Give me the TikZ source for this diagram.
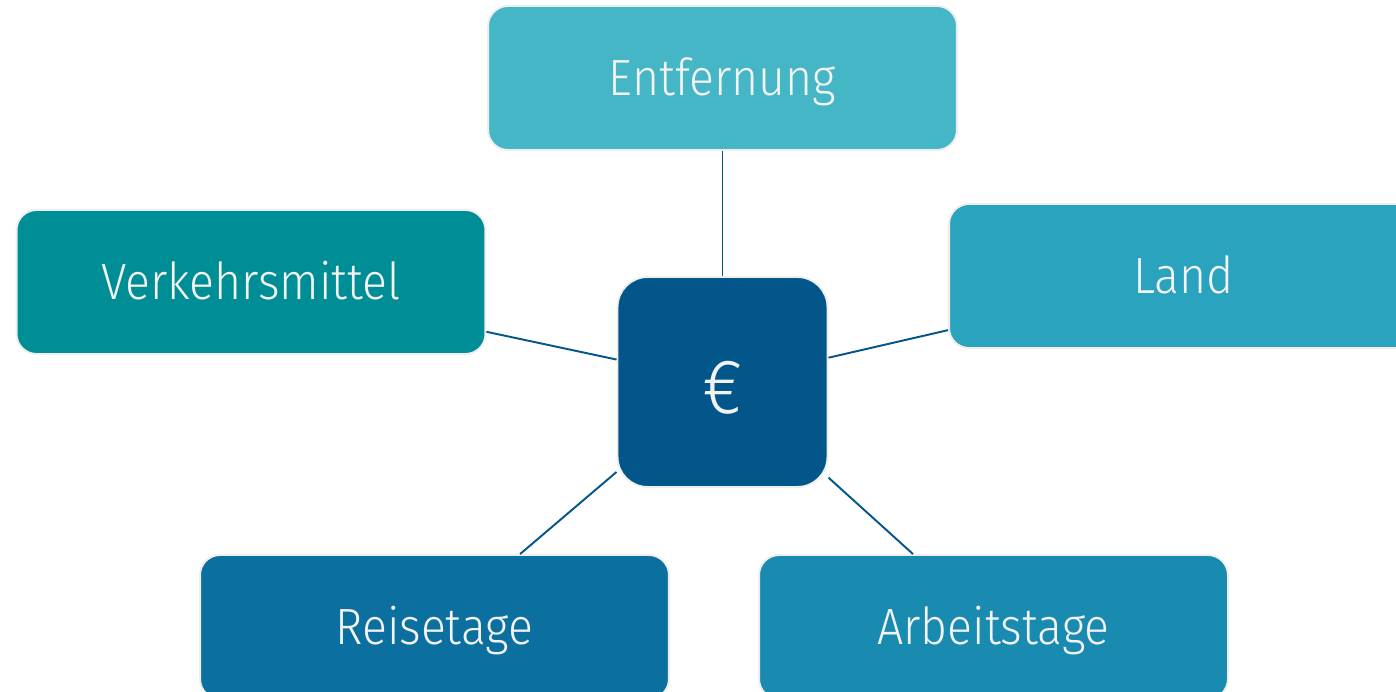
\documentclass[tikz,border=0pt]{standalone}
\usepackage{fontspec}
\setmainfont{Fira Sans}[UprightFont={* Light}, FakeStretch=0.91]
\usepackage{tikz}

\definecolor{entfcol}{HTML}{44B6C5}
\definecolor{verkcol}{HTML}{008E96}
\definecolor{landcol}{HTML}{2AA3BF}
\definecolor{eurocol}{HTML}{02568A}
\definecolor{reisecol}{HTML}{0B6F9F}
\definecolor{arbcol}{HTML}{198BB1}
\definecolor{rimcol}{HTML}{EEEEEE}
\definecolor{txtcol}{HTML}{F3F3F3}

\begin{document}
\begin{tikzpicture}[x=0.02cm, y=-0.02cm,
		factor/.style={draw=rimcol, line width=1.1pt, rounded corners=0.4cm,
			minimum width=9.38cm, minimum height=2.88cm, text=txtcol,
			text height=20pt, text depth=0pt, font=\fontsize{29}{34}\selectfont},
		centre/.style={factor, rounded corners=0.6cm, minimum width=4.2cm,
			minimum height=4.2cm, fill=eurocol, text height=36pt,
			font=\fontsize{44}{50}\selectfont},
		link/.style={draw=eurocol, line width=1.1pt}]
				\path[use as bounding box, clip] (0,0) rectangle (1396,692);
				\node[centre] (euro) at (722.5,382) {€};
				\node[factor, fill=entfcol] (entf) at (722.5,78) {Entfernung};
				\node[factor, fill=verkcol] (verk) at (251,282) {Verkehrsmittel};
				\node[factor, fill=landcol] (land) at (1183.5,276) {Land};
				\node[factor, fill=reisecol] (reise) at (434.5,627) {Reisetage};
				\node[factor, fill=arbcol] (arb) at (993.5,627) {Arbeitstage};
				\draw[link] (entf) -- (euro);
				\draw[link] (verk) -- (euro);
				\draw[link] (land) -- (euro);
				\draw[link] (reise) -- (euro);
				\draw[link] (arb) -- (euro);
			\end{tikzpicture}
\end{document}
